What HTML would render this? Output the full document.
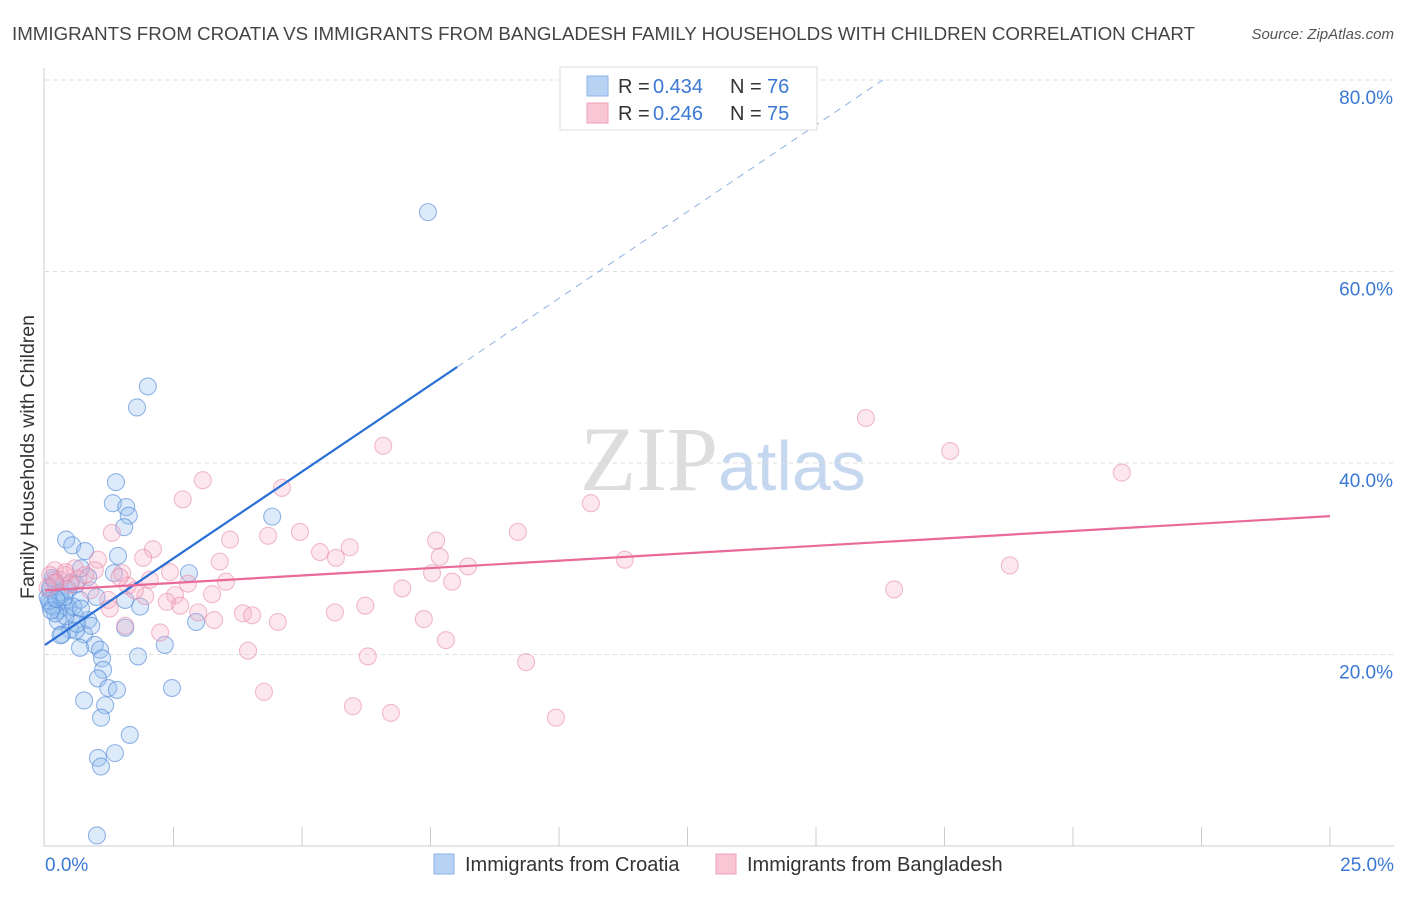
<!DOCTYPE html>
<html><head><meta charset="utf-8"><style>
body{margin:0;background:#fff;width:1406px;height:892px;overflow:hidden;font-family:"Liberation Sans",sans-serif;}
</style></head><body>
<svg id="chart" width="1406" height="892" xmlns="http://www.w3.org/2000/svg" font-family="Liberation Sans, sans-serif">
<text x="12" y="40" font-size="18" fill="#444" textLength="1183" lengthAdjust="spacingAndGlyphs">IMMIGRANTS FROM CROATIA VS IMMIGRANTS FROM BANGLADESH FAMILY HOUSEHOLDS WITH CHILDREN CORRELATION CHART</text>
<text x="1394" y="39" font-size="15" fill="#555" font-style="italic" text-anchor="end">Source: ZipAtlas.com</text>
<text x="718" y="490" font-size="92" text-anchor="end" fill="#ddd" font-family="Liberation Serif, serif">ZIP</text>
<text x="718" y="490" font-size="70" fill="#c6d8f0">atlas</text>
<g id="grid"></g>
<g id="axes"></g>
<g id="points"></g>
<g id="trends"></g>
<text transform="translate(34,457) rotate(-90)" font-size="19.5" fill="#333" text-anchor="middle">Family Households with Children</text>
<g>
<rect x="560" y="67" width="257" height="63" fill="#fff" stroke="#ddd"/>
<rect x="587" y="76" width="21" height="20" fill="#b8d2f4" stroke="#8fb4e8"/>
<text x="618" y="93" font-size="20" fill="#333">R =</text>
<text x="653" y="93" font-size="20" fill="#3a78d4">0.434</text>
<text x="730" y="93" font-size="20" fill="#333">N =</text>
<text x="767" y="93" font-size="20" fill="#3a78d4">76</text>
<rect x="587" y="103" width="21" height="20" fill="#f8c6d4" stroke="#eda0b8"/>
<text x="618" y="120" font-size="20" fill="#333">R =</text>
<text x="653" y="120" font-size="20" fill="#3a78d4">0.246</text>
<text x="730" y="120" font-size="20" fill="#333">N =</text>
<text x="767" y="120" font-size="20" fill="#3a78d4">75</text>
</g>
<g>
<rect x="434" y="854" width="20" height="20" fill="#b8d2f4" stroke="#8fb4e8"/>
<text x="465" y="871" font-size="20" fill="#333">Immigrants from Croatia</text>
<rect x="716" y="854" width="20" height="20" fill="#f8c6d4" stroke="#eda0b8"/>
<text x="747" y="871" font-size="20" fill="#333">Immigrants from Bangladesh</text>
</g>
</svg>
<script>
const croatiaX=[7.45,2.0,1.79,1.38,1.32,1.58,1.63,1.54,4.42,0.41,0.53,0.78,1.42,2.8,1.34,0.84,0.6,0.18,0.1,0.29,0.68,1.56,1.85,0.45,0.25,0.1,0.58,0.84,2.94,1.56,0.49,0.33,0.76,0.97,1.07,2.33,0.68,1.81,1.11,1.13,1.03,1.23,1.4,2.47,0.76,1.17,1.09,1.65,1.36,1.03,1.09,1.01,0.2,0.05,0.15,0.35,0.25,0.4,0.1,0.3,0.55,0.7,0.45,0.2,0.6,0.9,0.08,0.3,0.5,0.15,0.7,1.0,0.12,0.38,0.62,0.22];
const croatiaY=[66.2,48.0,45.8,38.0,35.8,35.4,34.5,33.3,34.4,32.0,31.4,30.8,30.3,28.5,28.5,28.1,27.3,27.8,26.7,26.2,25.7,25.7,25.0,24.9,24.6,25.2,24.1,23.6,23.4,22.8,22.6,22.1,22.1,21.0,20.5,21.0,20.7,19.8,19.6,18.4,17.5,16.5,16.3,16.5,15.2,14.7,13.4,11.6,9.7,9.2,8.3,1.1,27.5,26.0,25.0,25.5,23.5,24.0,27.0,26.5,25.0,24.8,26.8,24.3,22.5,23.0,25.6,22.0,27.5,28.0,29.0,26.0,24.6,26.0,23.2,25.8];
const bangX=[15.97,17.61,6.58,20.95,3.07,2.68,4.61,10.62,1.3,9.2,7.61,3.6,4.34,4.96,5.93,2.1,5.35,5.66,7.68,11.28,18.77,1.91,1.03,1.5,2.43,3.4,8.23,7.53,1.61,2.78,3.52,6.95,7.92,16.52,0.39,0.19,0.58,0.97,1.23,1.95,2.53,3.25,2.37,2.63,2.98,3.85,4.03,5.64,6.23,3.29,4.53,7.37,1.56,2.24,7.8,3.95,6.28,9.36,4.26,5.99,6.73,9.94,1.26,0.88,0.29,0.1,0.49,0.78,1.75,2.04,0.2,0.4,0.05,0.65,1.45];
const bangY=[44.7,41.25,41.8,39.0,38.2,36.2,37.4,35.8,32.7,32.8,31.9,32.0,32.4,32.8,31.2,31.0,30.7,30.1,30.2,29.9,29.3,30.1,29.9,28.5,28.6,29.7,29.2,28.5,27.2,27.4,27.6,26.9,27.6,26.8,28.3,28.8,29.0,28.8,25.7,26.1,26.2,26.3,25.5,25.1,24.4,24.3,24.1,24.4,25.1,23.6,23.4,23.7,23.0,22.3,21.5,20.4,19.8,19.2,16.1,14.6,13.9,13.4,24.8,26.7,27.8,28.3,27.3,28.3,26.7,27.8,27.5,28.6,27.0,27.9,28.1];
const yTicks=[20,40,60,80];
const yTickLabels=["20.0%","40.0%","60.0%","80.0%"];
const xTickLabels=["0.0%","25.0%"];
const croatiaTrend=[21.0,3.62];
const bangTrend=[26.7,0.31];
const NS="http://www.w3.org/2000/svg";
const X=v=>45+v/25*1285, Y=v=>846-v*9.575;
function mk(tag,attrs,parent){const e=document.createElementNS(NS,tag);for(const k in attrs)e.setAttribute(k,attrs[k]);document.getElementById(parent).appendChild(e);return e;}
yTicks.forEach((t,i)=>{
  const g=mk('line',{x1:45,x2:1394,y1:Y(t),y2:Y(t),stroke:'#ddd','stroke-dasharray':'4,4'},'grid');
  
  
  const l=mk('text',{x:1393,y:Y(t)+24,'font-size':19,fill:'#3a78d4','text-anchor':'end'},'grid');
  l.textContent=yTickLabels[i];
  
  
});
const ax=mk('line',{x1:44,x2:44,y1:68,y2:846,stroke:'#ccc'},'axes');


const bx=mk('line',{x1:44,x2:1394,y1:846,y2:846,stroke:'#ccc'},'axes');


for(let i=1;i<=10;i++){
  const t=mk('line',{x1:X(i*2.5),x2:X(i*2.5),y1:827,y2:846,stroke:'#ccc'},'axes');
  
  
}
[[0,'start',45],[25,'end',1394]].forEach((d,i)=>{
  const l=mk('text',{x:d[2],y:871,'font-size':19,fill:'#3a78d4','text-anchor':d[1]},'axes');
  l.textContent=xTickLabels[i];
  
  
});
croatiaX.forEach((x,i)=>{
  const c=mk('circle',{cx:X(x),cy:Y(croatiaY[i]),r:8.5,fill:'rgba(150,190,240,0.33)',stroke:'rgba(80,135,215,0.6)','stroke-width':1.1},'points');
  
  
});
bangX.forEach((x,i)=>{
  const c=mk('circle',{cx:X(x),cy:Y(bangY[i]),r:8.5,fill:'rgba(245,175,198,0.3)',stroke:'rgba(230,125,160,0.5)','stroke-width':1.1},'points');
  
  
});
const f1=v=>croatiaTrend[0]+croatiaTrend[1]*v;
const t1=mk('line',{x1:X(0),y1:Y(f1(0)),x2:X(8.02),y2:Y(f1(8.02)),stroke:'#2a6fd6','stroke-width':2.2},'trends');


const xe=(80-croatiaTrend[0])/croatiaTrend[1];
const t1d=mk('line',{x1:X(8.02),y1:Y(f1(8.02)),x2:X(xe),y2:Y(f1(xe)),stroke:'#8fb0e2','stroke-width':1,'stroke-dasharray':'7,6'},'trends');


const f2=v=>bangTrend[0]+bangTrend[1]*v;
const t2=mk('line',{x1:X(0),y1:Y(f2(0)),x2:X(25),y2:Y(f2(25)),stroke:'#e8699a','stroke-width':2.2},'trends');


</script>
</body></html>
